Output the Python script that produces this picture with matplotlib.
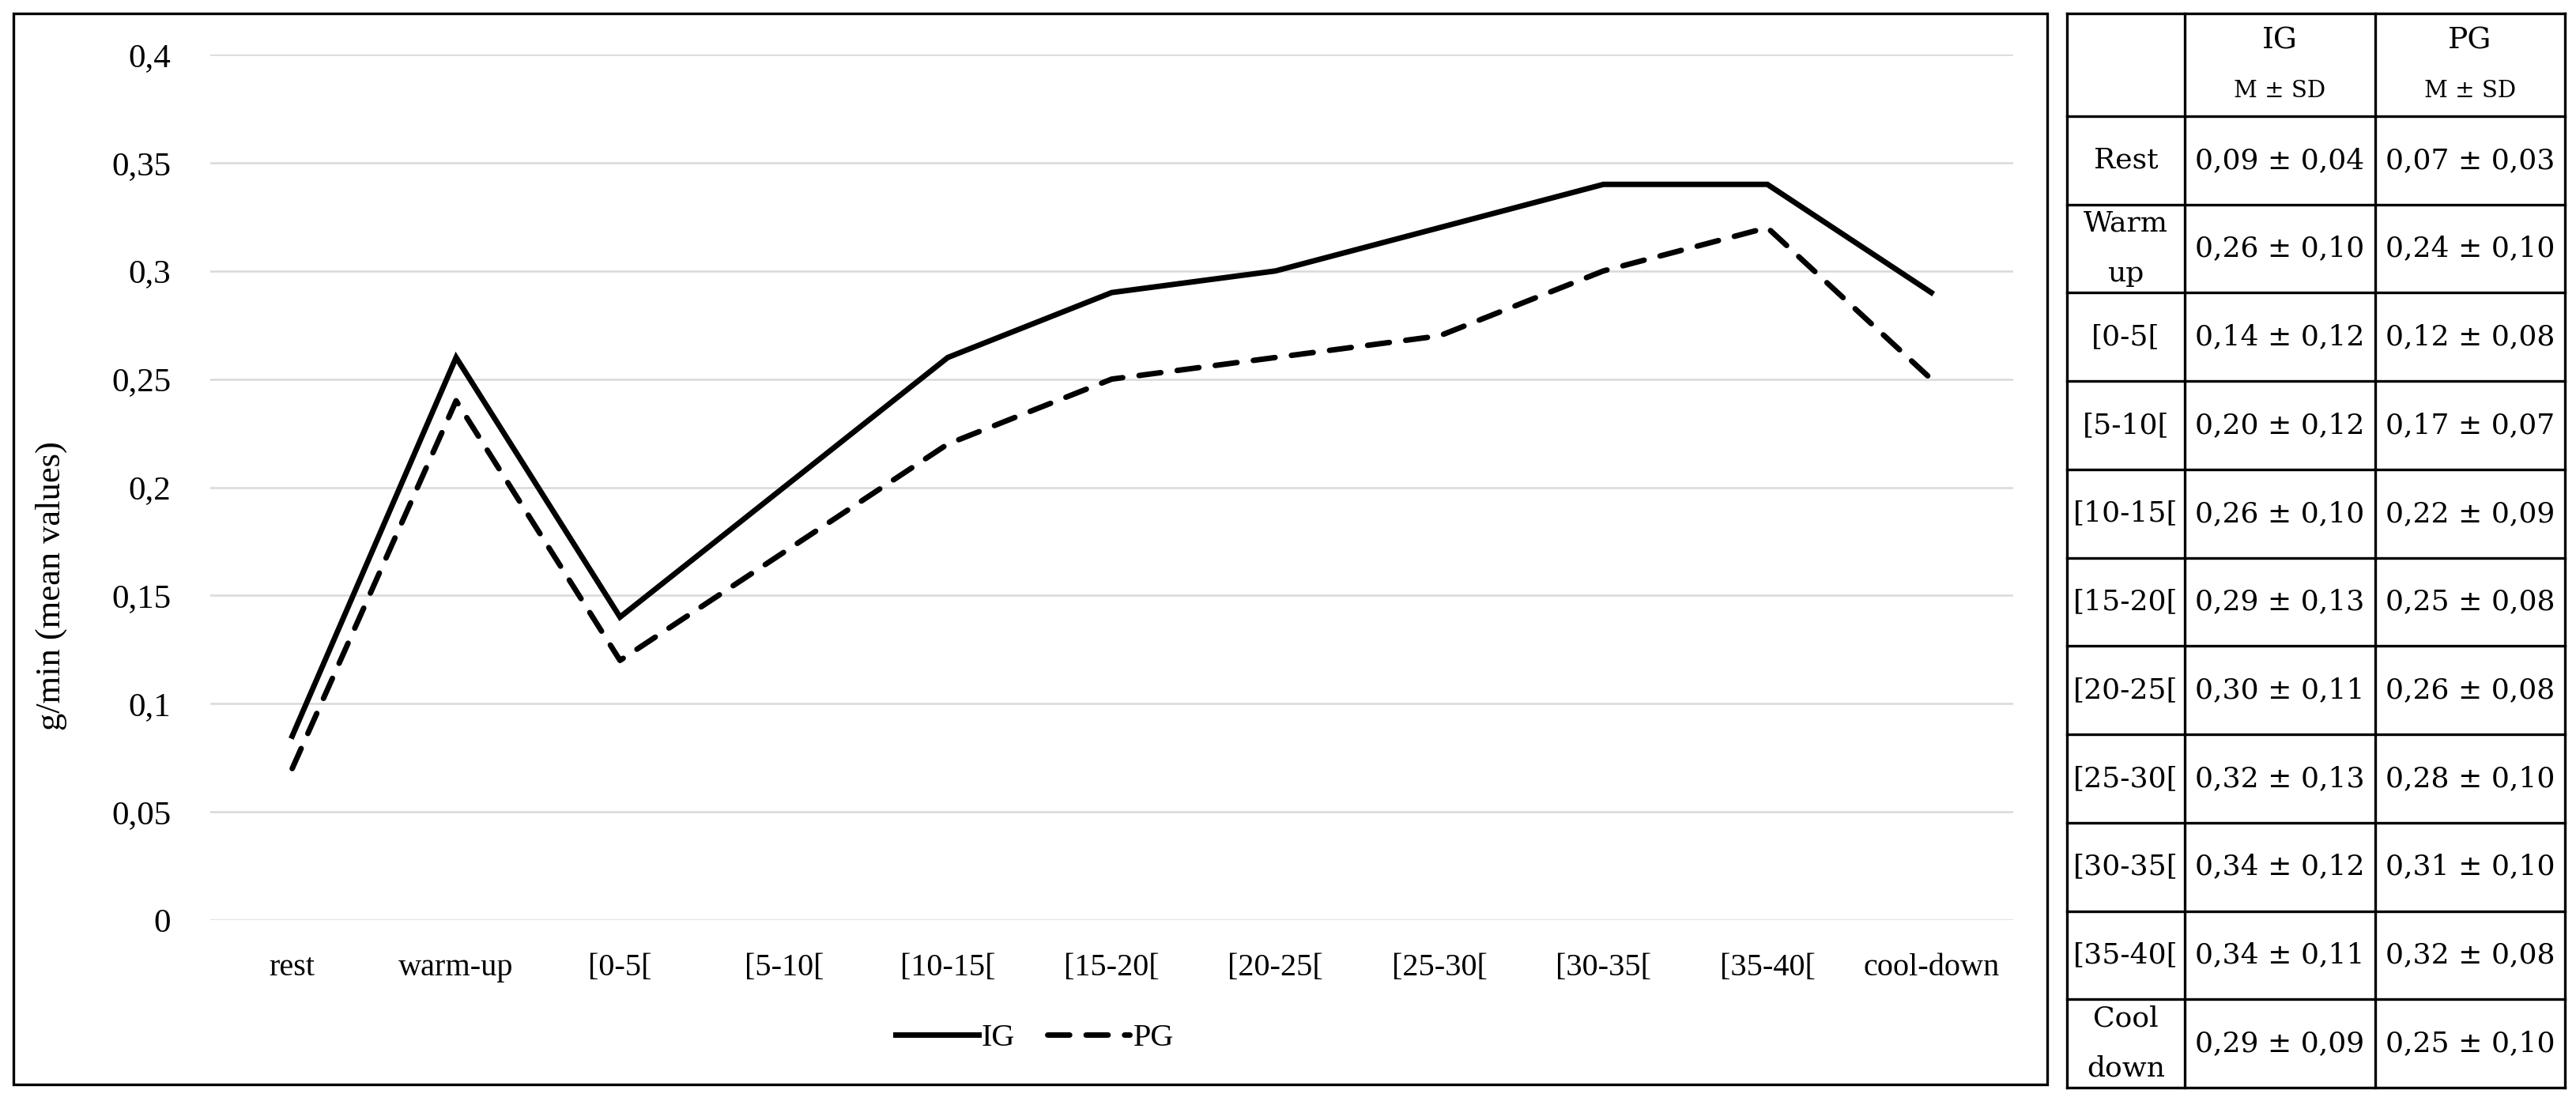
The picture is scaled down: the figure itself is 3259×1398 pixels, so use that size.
import matplotlib.pyplot as plt
from matplotlib.patches import Rectangle

# categories and mean values
periods = ['rest', 'warm-up', '[0-5[', '[5-10[', '[10-15[', '[15-20[',
           '[20-25[', '[25-30[', '[30-35[', '[35-40[', 'cool-down']
ig_values = [0.085, 0.26, 0.14, 0.20, 0.26, 0.29, 0.30, 0.32, 0.34, 0.34, 0.29]
pg_values = [0.07, 0.24, 0.12, 0.17, 0.22, 0.25, 0.26, 0.27, 0.30, 0.32, 0.25]
y_ticks = [0, 0.05, 0.1, 0.15, 0.2, 0.25, 0.3, 0.35, 0.4]

# table contents
row_labels = ['Rest', 'Warm\nup', '[0-5[', '[5-10[', '[10-15[', '[15-20[',
              '[20-25[', '[25-30[', '[30-35[', '[35-40[', 'Cool\ndown']
ig_msd = ['0,09 ± 0,04', '0,26 ± 0,10', '0,14 ± 0,12', '0,20 ± 0,12', '0,26 ± 0,10',
          '0,29 ± 0,13', '0,30 ± 0,11', '0,32 ± 0,13', '0,34 ± 0,12', '0,34 ± 0,11',
          '0,29 ± 0,09']
pg_msd = ['0,07 ± 0,03', '0,24 ± 0,10', '0,12 ± 0,08', '0,17 ± 0,07', '0,22 ± 0,09',
          '0,25 ± 0,08', '0,26 ± 0,08', '0,28 ± 0,10', '0,31 ± 0,10', '0,32 ± 0,08',
          '0,25 ± 0,10']
groups = ['IG', 'PG']

W, H = 3259, 1398
plt.rcParams['font.family'] = ['Liberation Serif', 'DejaVu Serif']
fig = plt.figure(figsize=(W / 100, H / 100), dpi=100)


def fx(px):
    return px / W


def fy(py):
    return 1 - py / H


# box around the chart
fig.patches.append(Rectangle((fx(17), fy(1372)), fx(2590) - fx(17), fy(17) - fy(1372),
                             transform=fig.transFigure, fill=False, lw=2.4,
                             edgecolor='black'))

ax = fig.add_axes([fx(266), fy(1164), fx(2547) - fx(266), fy(69) - fy(1164)])
x = list(range(len(periods)))
ax.plot(x, ig_values, color='black', lw=5, label='IG', solid_joinstyle='miter')
ax.plot(x, pg_values, color='black', lw=5, label='PG', dashes=(4.0, 3.0),
        dash_capstyle='round')
ax.set_xlim(-0.5, len(periods) - 0.5)
ax.set_ylim(0, 0.4)
ax.set_yticks(y_ticks)
ax.set_yticklabels([('%g' % v).replace('.', ',') for v in y_ticks])
ax.set_xticks(x)
ax.set_xticklabels(periods)
ax.tick_params(axis='y', length=0, pad=36, labelsize=31)
ax.tick_params(axis='x', length=0, pad=30, labelsize=29)
ax.grid(axis='y', color='#d9d9d9', lw=1.8)
ax.set_axisbelow(True)
for s in ax.spines.values():
    s.set_visible(False)
ax.set_ylabel('g/min (mean values)', fontsize=32)
ax.yaxis.set_label_coords(-0.0794, 0.386)
ax.legend(loc='center', bbox_to_anchor=(fx(1309), fy(1313)), bbox_transform=fig.transFigure,
          ncol=2, frameon=False, fontsize=29, handlelength=2.6, handletextpad=0.1,
          columnspacing=1.0)

# table on the right
col_edges = [2615, 2764, 3005, 3245]
head_h = 130
row_h = (1376 - 17 - head_h) / len(row_labels)
row_edges = [17, 17 + head_h] + [17 + head_h + row_h * (i + 1) for i in range(len(row_labels))]
tab = fig.add_axes([0, 0, 1, 1])
tab.set_xlim(0, W)
tab.set_ylim(H, 0)
tab.axis('off')
for ye in row_edges:
    tab.plot([col_edges[0], col_edges[-1]], [ye, ye], color='black', lw=2.4,
             solid_capstyle='projecting')
for xe in col_edges:
    tab.plot([xe, xe], [row_edges[0], row_edges[-1]], color='black', lw=2.4,
             solid_capstyle='projecting')

tf = 'DejaVu Serif'
for j, g in enumerate(groups):
    cx = (col_edges[j + 1] + col_edges[j + 2]) / 2
    tab.text(cx, 17 + 34, g, ha='center', va='center', fontsize=27, family=tf)
    tab.text(cx, 17 + 98, 'M ± SD', ha='center', va='center', fontsize=21, family=tf)

for i, lab in enumerate(row_labels):
    cy = (row_edges[i + 1] + row_edges[i + 2]) / 2
    tab.text((col_edges[0] + col_edges[1]) / 2, cy, lab, ha='center', va='center',
             fontsize=26, family=tf, linespacing=2.1)
    tab.text((col_edges[1] + col_edges[2]) / 2, cy, ig_msd[i], ha='center', va='center',
             fontsize=26, family=tf)
    tab.text((col_edges[2] + col_edges[3]) / 2, cy, pg_msd[i], ha='center', va='center',
             fontsize=26, family=tf)

fig.savefig('out.png', dpi=100)
